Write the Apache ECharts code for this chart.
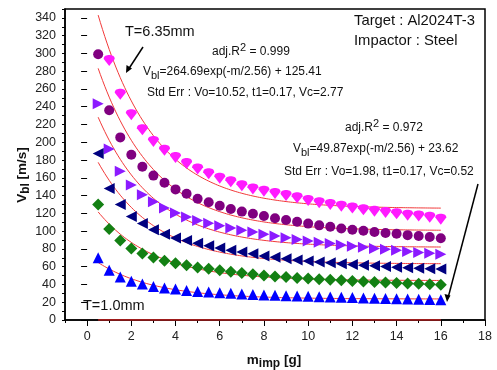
<!DOCTYPE html>
<html>
<head>
<meta charset="utf-8">
<script src="https://cdn.jsdelivr.net/npm/echarts@6/dist/echarts.min.js"></script>
<style>
  html, body { margin: 0; padding: 0; background: #fff; }
  #chart { width: 497px; height: 370px; }
</style>
</head>
<body>
<div id="chart"></div>
<script>
// Impactor mass (g)
const mass = [0.5, 1, 1.5, 2, 2.5, 3, 3.5, 4, 4.5, 5, 5.5, 6, 6.5, 7, 7.5, 8,
              8.5, 9, 9.5, 10, 10.5, 11, 11.5, 12, 12.5, 13, 13.5, 14, 14.5, 15, 15.5, 16];

// Ballistic limit velocity (m/s) per target thickness
const vT635 = [null, 292, 254, 231, 214, 201, 191, 183, 176, 170, 164.5, 159.5, 155.5, 151, 147.5, 145,
               142.5, 140, 137.5, 134.5, 132, 130, 128, 126, 124, 122.5, 121, 119.5, 118, 117, 115.5, 113.5];
const vT5 = [299, 236, 205.5, 186, 172.5, 162.5, 154.5, 147, 142, 136.5, 132.5, 128.5, 125, 122, 119.5, 117,
             114.5, 112.5, 110.5, 108.5, 106.5, 105, 103, 101.5, 100.5, 99, 98, 97, 95.5, 94.5, 93.5, 92];
const vT4 = [243.5, 192.5, 167.5, 152, 141, 133, 126, 120.5, 116, 112, 109, 106, 103.5, 101, 99, 96.5,
             94.5, 92.5, 90.5, 89, 87.5, 86, 84.5, 83, 82, 80.5, 79.5, 78.5, 77, 76, 75, 74];
const vT3 = [187.5, 148, 130, 116.5, 108.5, 101.5, 96.5, 92.3, 89.5, 86.5, 83.7, 81, 78.5, 76.5, 74.5, 72,
             70.5, 69, 67.5, 66.5, 65.3, 64.3, 63.3, 62.5, 61.5, 61, 60.3, 59.5, 58.8, 58.2, 57.7, 57.3];
const vT2 = [130, 102.5, 89.5, 80.5, 74.7, 70.2, 66.8, 64, 61.5, 59.2, 57.8, 56, 54.4, 53, 51.5, 50,
             49, 48.3, 47.3, 46.6, 46, 45.3, 44.6, 44, 43.3, 42.8, 42.2, 41.7, 41.2, 40.8, 40.3, 39.8];
const vT1 = [70, 56, 48.4, 43.5, 40.5, 37.8, 36, 35, 33.3, 32.2, 31.5, 30.7, 30, 29.3, 28.8, 28.2,
             27.8, 27.3, 26.9, 26.6, 26.2, 25.8, 25.5, 25.2, 24.8, 24.5, 24.2, 23.9, 23.6, 23.4, 23.1, 22.9];

// Exponential decay fits: Vbl = A*exp(-m/t) + C, top to bottom
const fitA = [264.69, 222, 178, 139, 94, 49.87];
const fitC = [125.41, 100.6, 81.8, 63.1, 44.3, 23.62];
const fitT = [2.56, 2.56, 2.56, 2.56, 2.56, 2.56];
const fitRange = [0.5, 16];

// Axis tick labels
const xLabels = [0, 2, 4, 6, 8, 10, 12, 14, 16, 18];
const yLabels = [0, 20, 40, 60, 80, 100, 120, 140, 160, 180, 200, 220, 240, 260, 280, 300, 320, 340];

const markerShield = 'path://M0,3.5 C0,0.6 2.6,0 5,0 C7.4,0 10,0.6 10,3.5 L5,10 Z';

const pointSets = [
  { v: vT635, color: '#ff1aff', symbol: markerShield, size: 11, rot: 0 },
  { v: vT5,   color: '#800080', symbol: 'circle', size: 10, rot: 0 },
  { v: vT4,   color: '#8c1aff', symbol: 'triangle', size: 11, rot: -90 },
  { v: vT3,   color: '#000080', symbol: 'triangle', size: 11, rot: 90 },
  { v: vT2,   color: '#138013', symbol: 'diamond', size: 12, rot: 0 },
  { v: vT1,   color: '#0000ff', symbol: 'triangle', size: 11, rot: 0 }
];

const series = [];

function fitCurve(i) {
  const pts = [];
  for (let k = 0; k <= 155; k++) {
    const m = fitRange[0] + k * 0.1;
    pts.push([m, fitA[i] * Math.exp(-m / fitT[i]) + fitC[i]]);
  }
  return pts;
}

for (let i = 0; i < fitA.length; i++) {
  series.push({
    type: 'line', data: fitCurve(i), showSymbol: false, symbol: 'none',
    lineStyle: { color: '#f23a3a', width: 1 }, z: 3, silent: true
  });
}
// baseline fit along zero
series.push({
  type: 'line', data: [[fitRange[0], 0], [fitRange[1], 0]], symbol: 'none',
  lineStyle: { color: '#d02020', width: 1.5 }, z: 6, silent: true
});

pointSets.forEach(p => {
  series.push({
    type: 'scatter',
    data: mass.map((m, j) => p.v[j] == null ? null : [m, p.v[j]]).filter(d => d),
    symbol: p.symbol, symbolSize: p.size, symbolRotate: p.rot,
    itemStyle: { color: p.color, opacity: 1 }, z: 4
  });
});

const axisFont = { fontFamily: 'Liberation Sans, Arial, sans-serif', fontSize: 12.5, color: '#222' };

const option = {
  animation: false,
  backgroundColor: '#fff',
  grid: { left: 65, right: 12, top: 9, bottom: 50, show: true, borderColor: '#000', borderWidth: 1.5 },
  xAxis: [
    {
      type: 'value', min: -1, max: 18, interval: 1,
      axisLine: { show: true, onZero: false, lineStyle: { color: '#000', width: 1.5 } },
      axisTick: { show: true, length: 3, lineStyle: { color: '#000' } },
      axisLabel: { show: true, customValues: xLabels, margin: 10, ...axisFont },
      splitLine: { show: false }
    },
    {
      type: 'value', min: -1, max: 18, position: 'bottom', gridIndex: 0,
      axisLine: { show: false },
      axisTick: { show: true, length: 6, customValues: xLabels, lineStyle: { color: '#000' } },
      axisLabel: { show: false },
      splitLine: { show: false }
    }
  ],
  yAxis: [
    {
      type: 'value', min: 0, max: 350, interval: 10,
      axisLine: { show: true, onZero: false, lineStyle: { color: '#000', width: 1.5 } },
      axisTick: { show: true, length: 3, lineStyle: { color: '#000' } },
      axisLabel: { show: true, customValues: yLabels, margin: 9, ...axisFont },
      splitLine: { show: false }
    },
    {
      type: 'value', min: 0, max: 350, position: 'left',
      axisLine: { show: false },
      axisTick: { show: true, length: 6, customValues: yLabels, lineStyle: { color: '#000' } },
      axisLabel: { show: false },
      splitLine: { show: false }
    }
  ],
  series: series,
  graphic: []
};

const txtFont = 'Liberation Sans, Arial, sans-serif';
function label(x, y, text, size, extra) {
  return Object.assign({
    type: 'text', x: x, y: y, z: 10,
    style: { text: text, fill: '#111', font: size + 'px ' + txtFont, verticalAlign: 'middle', align: 'left' }
  }, extra || {});
}
function richLabel(x, y, text, size) {
  return {
    type: 'text', x: x, y: y, z: 10,
    style: {
      text: text, verticalAlign: 'middle', align: 'left', fill: '#111',
      font: size + 'px ' + txtFont,
      rich: {
        n: { fontSize: size, fontFamily: txtFont, fill: '#111' },
        sub: { fontSize: size - 1, fontFamily: txtFont, fill: '#111', padding: [7, 0, 0, 0] },
        sup: { fontSize: size - 1, fontFamily: txtFont, fill: '#111', padding: [0, 0, 9, 0] }
      }
    }
  };
}

option.graphic = [
  label(125, 32, 'T=6.35mm', 14.5),
  label(83, 306, 'T=1.0mm', 14.5),
  label(354, 21, 'Target : Al2024T-3', 14.8),
  label(354, 41, 'Impactor : Steel', 14.8),
  richLabel(212, 52, '{n|adj.R}{sup|2}{n| = 0.999}', 12),
  richLabel(143, 72, '{n|V}{sub|bl}{n|=264.69exp(-m/2.56) + 125.41}', 12),
  label(147, 93, 'Std Err : Vo=10.52, t1=0.17, Vc=2.77', 12),
  richLabel(345, 128, '{n|adj.R}{sup|2}{n| = 0.972}', 12),
  richLabel(293, 149, '{n|V}{sub|bl}{n|=49.87exp(-m/2.56) + 23.62}', 12),
  label(284, 172, 'Std Err : Vo=1.98, t1=0.17, Vc=0.52', 12),
  // arrows
  { type: 'line', z: 10, shape: { x1: 143, y1: 47, x2: 128, y2: 70 }, style: { stroke: '#000', lineWidth: 1.5 } },
  { type: 'polygon', z: 10, shape: { points: [[126, 73], [126.5, 65], [132, 68.5]] }, style: { fill: '#000' } },
  { type: 'line', z: 10, shape: { x1: 478, y1: 184, x2: 448, y2: 298 }, style: { stroke: '#000', lineWidth: 1.5 } },
  { type: 'polygon', z: 10, shape: { points: [[447, 302], [444.5, 294], [450.5, 295.5]] }, style: { fill: '#000' } },
  // axis titles
  {
    type: 'text', x: 22, y: 175, rotation: Math.PI / 2, z: 10,
    style: {
      text: '{b|V}{bs|bl}{b| [m/s]}', align: 'center', verticalAlign: 'middle',
      rich: {
        b: { fontSize: 13.5, fontWeight: 'bold', fontFamily: txtFont, fill: '#111' },
        bs: { fontSize: 12, fontWeight: 'bold', fontFamily: txtFont, fill: '#111', padding: [8, 0, 0, 0] }
      }
    }
  },
  {
    type: 'text', x: 274, y: 360, z: 10,
    style: {
      text: '{b|m}{bs|imp}{b| [g]}', align: 'center', verticalAlign: 'middle',
      rich: {
        b: { fontSize: 13.5, fontWeight: 'bold', fontFamily: txtFont, fill: '#111' },
        bs: { fontSize: 12, fontWeight: 'bold', fontFamily: txtFont, fill: '#111', padding: [8, 0, 0, 0] }
      }
    }
  }
];

const chart = echarts.init(document.getElementById('chart'), null, { renderer: 'canvas' });
chart.setOption(option);
</script>
</body>
</html>
